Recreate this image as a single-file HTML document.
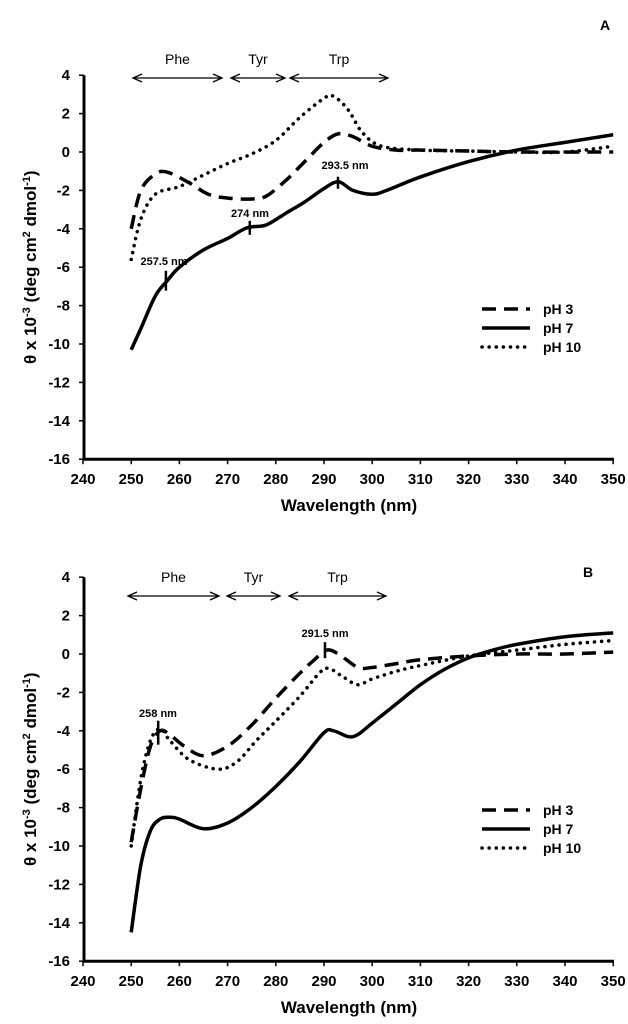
<!DOCTYPE html>
<html><head><meta charset="utf-8"><style>
body{margin:0;background:#fff}
svg{display:block;font-family:"Liberation Sans",Arial,sans-serif}
</style></head><body>
<svg id="s" width="628" height="1024"></svg>
<script>
const xTicks=[240,250,260,270,280,290,300,310,320,330,340,350];
const yTicks=[4,2,0,-2,-4,-6,-8,-10,-12,-14,-16];
const aWl7=[250,252,255,257.5,260,265,270,274,278,282,286,290,293,296,300,303,310,320,330,340,350];
const aPh7=[-10.3,-9.2,-7.5,-6.7,-6.0,-5.1,-4.5,-3.95,-3.8,-3.2,-2.6,-1.9,-1.55,-2.0,-2.2,-2.0,-1.3,-0.5,0.1,0.5,0.9];
const aWl3=[250,252,255,257.5,262,266,270,275,278,282,286,290,293,296,300,305,310,320,330,350];
const aPh3=[-4,-2,-1.15,-1.05,-1.6,-2.2,-2.4,-2.45,-2.3,-1.5,-0.5,0.5,0.95,0.8,0.3,0.1,0.1,0.05,0,0];
const aWl10=[250,252,255,260,265,270,275,280,285,290,292,295,298,302,310,320,330,340,350];
const aPh10=[-5.6,-3.5,-2.2,-1.8,-1.2,-0.6,-0.1,0.6,1.8,2.8,2.9,2.2,1.0,0.3,0.1,0.05,0,0,0.3];
const bWl7=[250,252,254,256,258,260,265,270,275,280,285,290,292,295,297,300,305,310,315,320,325,330,340,350];
const bPh7=[-14.5,-11,-9.2,-8.6,-8.5,-8.6,-9.1,-8.8,-8,-6.9,-5.6,-4.1,-4,-4.3,-4.2,-3.6,-2.6,-1.6,-0.8,-0.2,0.2,0.5,0.9,1.1];
const bWl3=[250,252,254,256,258,261,265,270,275,280,285,288,290.5,293,297,300,305,310,320,330,340,350];
const bPh3=[-9.8,-7,-4.8,-4.0,-4.2,-4.8,-5.3,-4.8,-3.7,-2.3,-1.0,-0.3,0.2,0.0,-0.7,-0.7,-0.5,-0.3,-0.1,0,0,0.1];
const bWl10=[250,252,254,256,258,262,268,272,276,280,285,289,291,294,297,300,305,310,320,330,340,350];
const bPh10=[-10,-6.5,-4.5,-3.9,-4.5,-5.5,-6.0,-5.6,-4.5,-3.5,-2.2,-1.0,-0.75,-1.2,-1.6,-1.3,-0.9,-0.6,-0.1,0.2,0.5,0.7];
const aMarks=[[257.2,-6.7,"257.5 nm",164,265,10],[274.6,-3.95,"274 nm",250,217,7],[292.9,-1.6,"293.5 nm",345,169,6]];
const bMarks=[[255.6,-4.1,"258 nm",158,717,12],[290.2,0.2,"291.5 nm",325,637,8]];
const NS="http://www.w3.org/2000/svg";
const svg=document.getElementById('s');
function el(t,a,p){const e=document.createElementNS(NS,t);for(const k in a)e.setAttribute(k,a[k]);(p||svg).appendChild(e);return e;}
function smooth(pts){let d="M"+pts[0][0]+","+pts[0][1];for(let i=0;i<pts.length-1;i++){const p0=pts[i-1]||pts[i],p1=pts[i],p2=pts[i+1],p3=pts[i+2]||p2;
d+=" C"+(p1[0]+(p2[0]-p0[0])/6)+","+(p1[1]+(p2[1]-p0[1])/6)+" "+(p2[0]-(p3[0]-p1[0])/6)+","+(p2[1]-(p3[1]-p1[1])/6)+" "+p2[0]+","+p2[1];}return d;}
function panel(id,y0,letter,lx,ly,series,marks,arrY,arrows,legY){
 const g=el('g',{});
 const X=w=>83+(w-240)*4.82, Y=v=>y0-v*19.2;
 const ax=el('path',{d:`M84,${Y(4)} V${Y(-16)} H614`,stroke:'#000','stroke-width':3,fill:'none'},g);
 
 xTicks.forEach(t=>{el('line',{x1:X(t),x2:X(t),y1:Y(-16),y2:Y(-16)+5,stroke:'#000','stroke-width':1.5},g);
  const tx=el('text',{x:X(t),y:Y(-16)+25,'text-anchor':'middle','font-size':15,'font-weight':'bold'},g);tx.textContent=t;
  });
 yTicks.forEach(t=>{el('line',{x1:79,x2:84,y1:Y(t),y2:Y(t),stroke:'#000','stroke-width':1.5},g);
  const tx=el('text',{x:70,y:Y(t)+5,'text-anchor':'end','font-size':15,'font-weight':'bold'},g);tx.textContent=t;
  });
 const xt=el('text',{x:349,y:Y(-16)+52,'text-anchor':'middle','font-size':17,'font-weight':'bold'},g);xt.textContent='Wavelength (nm)';
 
 const cy=(Y(4)+Y(-16))/2;
 const yt=el('text',{x:36,y:cy,'text-anchor':'middle','font-size':17,'font-weight':'bold',transform:`rotate(-90 36 ${cy})`},g);
 yt.innerHTML='θ x 10<tspan dy="-6" font-size="11">-3</tspan><tspan dy="6"> (deg cm</tspan><tspan dy="-6" font-size="11">2</tspan><tspan dy="6"> dmol</tspan><tspan dy="-6" font-size="11">-1</tspan><tspan dy="6">)</tspan>';
 
 const lt=el('text',{x:lx,y:ly,'font-size':14,'font-weight':'bold'},g);lt.textContent=letter;
 
 const styles={'pH 3':{w:3.5,da:'14,8'},'pH 7':{w:3.5,da:''},'pH 10':{w:3.5,da:'0.1,7',cap:'round'}};
 series.forEach((s,i)=>{const st=styles[s[0]];
  const p=el('path',{d:smooth(s[1].map((w,j)=>[X(w),Y(s[2][j])])),stroke:'#000','stroke-width':st.w,fill:'none','stroke-dasharray':st.da,'stroke-linecap':st.cap||'butt'},g);
  
  const ly2=legY+i*19;
  const ll=el('line',{x1:482,x2:530,y1:ly2,y2:ly2,stroke:'#000','stroke-width':st.w,'stroke-dasharray':st.da,'stroke-linecap':st.cap||'butt'},g);
  
  const lx2=el('text',{x:543,y:ly2+5,'font-size':14,'font-weight':'bold'},g);lx2.textContent=s[0];
  });
 marks.forEach(m=>{el('line',{x1:X(m[0]),x2:X(m[0]),y1:Y(m[1])-m[5],y2:Y(m[1])+m[5],stroke:'#000','stroke-width':2.5},g);
  const t=el('text',{x:m[3],y:m[4],'text-anchor':'middle','font-size':11,'font-weight':'bold'},g);t.textContent=m[2];
  });
 arrows.forEach(a=>{const x1=a[1],x2=a[2];
  el('path',{d:`M${x1},${arrY}H${x2}M${x1+9},${arrY-4}L${x1},${arrY}L${x1+9},${arrY+4}M${x2-9},${arrY-4}L${x2},${arrY}L${x2-9},${arrY+4}`,stroke:'#000','stroke-width':1.3,fill:'none'},g);
  const t=el('text',{x:(x1+x2)/2,y:arrY-14,'text-anchor':'middle','font-size':14},g);t.textContent=a[0];
  });
}
panel('a',152,'A',600,30,[['pH 3',aWl3,aPh3],['pH 7',aWl7,aPh7],['pH 10',aWl10,aPh10]],aMarks,78,[['Phe',133,222],['Tyr',231,285],['Trp',290,388]],309);
panel('b',654,'B',583,577,[['pH 3',bWl3,bPh3],['pH 7',bWl7,bPh7],['pH 10',bWl10,bPh10]],bMarks,596,[['Phe',128,219],['Tyr',227,280],['Trp',289,386]],810);
</script>
</body></html>
